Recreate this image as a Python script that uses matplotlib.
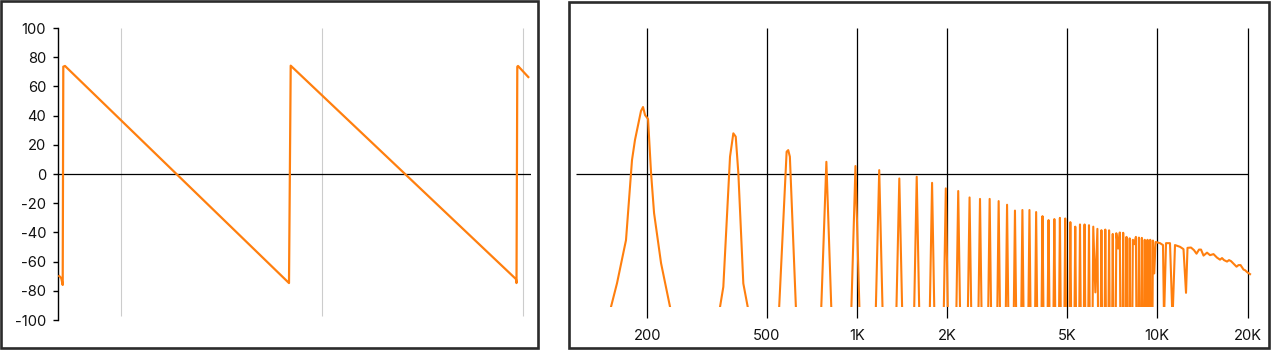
import matplotlib
matplotlib.use("Agg")
import matplotlib.pyplot as plt
from matplotlib.patches import Rectangle
from matplotlib.ticker import NullLocator

plt.rcParams['font.family'] = ['Inter', 'DejaVu Sans']
plt.rcParams['axes.unicode_minus'] = False

# ---------------- data ----------------
# Left: waveform (x in samples, y in %)
wave_x = [1.3, 3.3, 4.7, 5.3, 7.0, 231.0, 232.7, 458.0, 458.5, 459.3, 460.0, 470.3]
wave_y = [-69.9, -71.4, -76.0, 73.5, 74.0, -74.7, 74.2, -72.0, -74.7, 73.5, 74.0, 66.4]
wave_grid_x = [63, 264, 465]
wave_yticks = [-100, -80, -60, -40, -20, 0, 20, 40, 60, 80, 100]

# Right: spectrum (Hz, dB-like)
lobe1_f = [149.5, 151.3, 158.5, 169.8, 177.8, 181.9, 190.5, 193.5, 196.5, 201.1, 205.8, 210.6, 222.2, 238.1, 240.0]
lobe1_v = [-100, -91, -74.7, -45.2, 9.6, 23.3, 43.2, 45.9, 40.4, 37.7, 0.7, -26.7, -61.0, -91, -100]
lobe2_f = [347.0, 349.3, 358.3, 377.2, 386.9, 394.1, 402.1, 417.7, 432.1, 434.0]
lobe2_v = [-100, -91, -77.2, 11.9, 27.9, 25.6, 0.5, -74.9, -91, -100]
lobe3_f = [548.0, 550.0, 582.3, 589.5, 597.0, 625.2, 627.0]
lobe3_v = [-100, -91, 15.3, 16.4, 11.9, -91, -100]

F0 = 197.5
harm_n = list(range(4, 51))
harm_peak = [8.4, 5.5, 2.7, -3.0, -1.8, -6.0, -9.8, -11.6, -16.0, -17.0,
             -17.0, -18.5, -21.0, -25.0, -24.6, -24.6, -26.0, -28.8, -31.5, -30.8,
             -30.0, -30.4, -32.9, -36.0, -34.5, -34.5, -35.0, -36.0, -37.5, -38.4,
             -38.0, -38.5, -41.0, -40.5, -40.0, -40.2, -43.0, -44.0, -45.0, -43.0,
             -43.5, -43.7, -45.0, -45.0, -45.0, -45.5, -46.5]
# value between harmonic n and n+1 (n = 4..49); -100 = falls below the chart floor
harm_dip = [-100, -100, -100, -100, -100, -100, -100, -100, -100, -100,
            -100, -100, -100, -100, -100, -100, -100, -100, -100, -100,
            -100, -100, -100, -100, -100, -100, -100, -81, -100, -100,
            -100, -100, -100, -51, -100, -100, -100, -100, -48, -100,
            -100, -100, -100, -100, -100, -68]
HALF_WIDTH = 33.0
HIDDEN = -100

tail_f = [10217, 10454, 10536, 10699, 11031, 11246, 11463, 11912, 12236, 12474,
          12618, 12961, 13263, 13521, 13783, 13996, 14267, 14656, 14997, 15404,
          15823, 16192, 16441, 16697, 17086, 17348, 17618, 17962, 18378, 18664,
          18954, 19396, 19621, 19926, 20387]
tail_v = [-47.3, -48.6, -100, -47.3, -47.3, -100, -48.6, -49.8, -51.4, -81.3,
          -50.5, -50.3, -52.1, -54.5, -51.7, -51.7, -55.8, -53.8, -55.5, -54.8,
          -57.2, -58.6, -57.5, -58.9, -59.9, -58.9, -59.6, -61.3, -63.4, -62.3,
          -62.3, -65.4, -65.8, -67.1, -68.5]

freq_ticks = [200, 500, 1000, 2000, 5000, 10000, 20000]
freq_labels = ['200', '500', '1K', '2K', '5K', '10K', '20K']

# ---------------- build spectrum line ----------------
spec_f = lobe1_f + lobe2_f + lobe3_f
spec_v = lobe1_v + lobe2_v + lobe3_v
for i, n in enumerate(harm_n):
    f = n * F0
    prev_d = harm_dip[i - 1] if i > 0 else HIDDEN
    if prev_d <= HIDDEN:
        spec_f.append(f - HALF_WIDTH); spec_v.append(HIDDEN)
    spec_f.append(f); spec_v.append(harm_peak[i])
    if i < len(harm_dip):
        d = harm_dip[i]
        if d <= HIDDEN:
            spec_f.append(f + HALF_WIDTH); spec_v.append(HIDDEN)
        else:
            spec_f.append(f + F0 / 2); spec_v.append(d)
spec_f += tail_f
spec_v += tail_v

# ---------------- figure ----------------
W, H = 1274, 352
fig = plt.figure(figsize=(W / 100, H / 100), dpi=100)
ORANGE = '#ff7f0e'
TXT = '#111111'


def rect(l, t, r, b):
    return [l / W, 1 - b / H, (r - l) / W, (b - t) / H]


def frame(l, t, r, b):
    fig.add_artist(Rectangle((l / W, 1 - b / H), (r - l) / W, (b - t) / H,
                             transform=fig.transFigure, fill=False,
                             ec='#2b2b2b', lw=1.9))


frame(1.4, 1.4, 537.6, 348.4)
frame(568.7, 1.8, 1269.4, 348.0)

# Left: waveform
ax = fig.add_axes(rect(58, 28, 531, 320))
ax.set_xlim(0, 473)
ax.set_ylim(-100, 100)
for s in ['top', 'right', 'bottom']:
    ax.spines[s].set_visible(False)
ax.spines['left'].set_linewidth(1.0)
ax.spines['left'].set_color('black')
ax.set_xticks([])
ax.set_yticks(wave_yticks)
ax.set_yticklabels([str(v) for v in wave_yticks])
ax.tick_params(axis='y', length=3.6, width=1.0, pad=5.0, labelsize=10.6, labelcolor=TXT)
ax.vlines(wave_grid_x, -97.5, 100, colors='#cccccc', lw=0.8, zorder=1)
ax.axhline(0, color='black', lw=0.9, zorder=2)
ax.plot(wave_x, wave_y, color=ORANGE, lw=1.6, zorder=3)

# Right: spectrum
ax2 = fig.add_axes(rect(576, 28, 1258, 307))
ax2.set_xscale('log')
ax2.set_xlim(115.7, 21670)
ax2.set_ylim(-91, 100)
for s in ax2.spines.values():
    s.set_visible(False)
ax2.set_yticks([])
ax2.xaxis.set_minor_locator(NullLocator())
ax2.set_xticks(freq_ticks)
ax2.set_xticklabels(freq_labels)
ax2.tick_params(axis='x', length=0, pad=16, labelsize=10.6, labelcolor=TXT)
ax2.vlines(freq_ticks, -98.6, 100, colors='black', lw=0.9, clip_on=False, zorder=1)
ax2.hlines(0, 115.7, 20000, colors='black', lw=0.9, zorder=2)
ax2.plot(spec_f, spec_v, color=ORANGE, lw=1.5, zorder=3)

fig.savefig('out.png', dpi=100)
